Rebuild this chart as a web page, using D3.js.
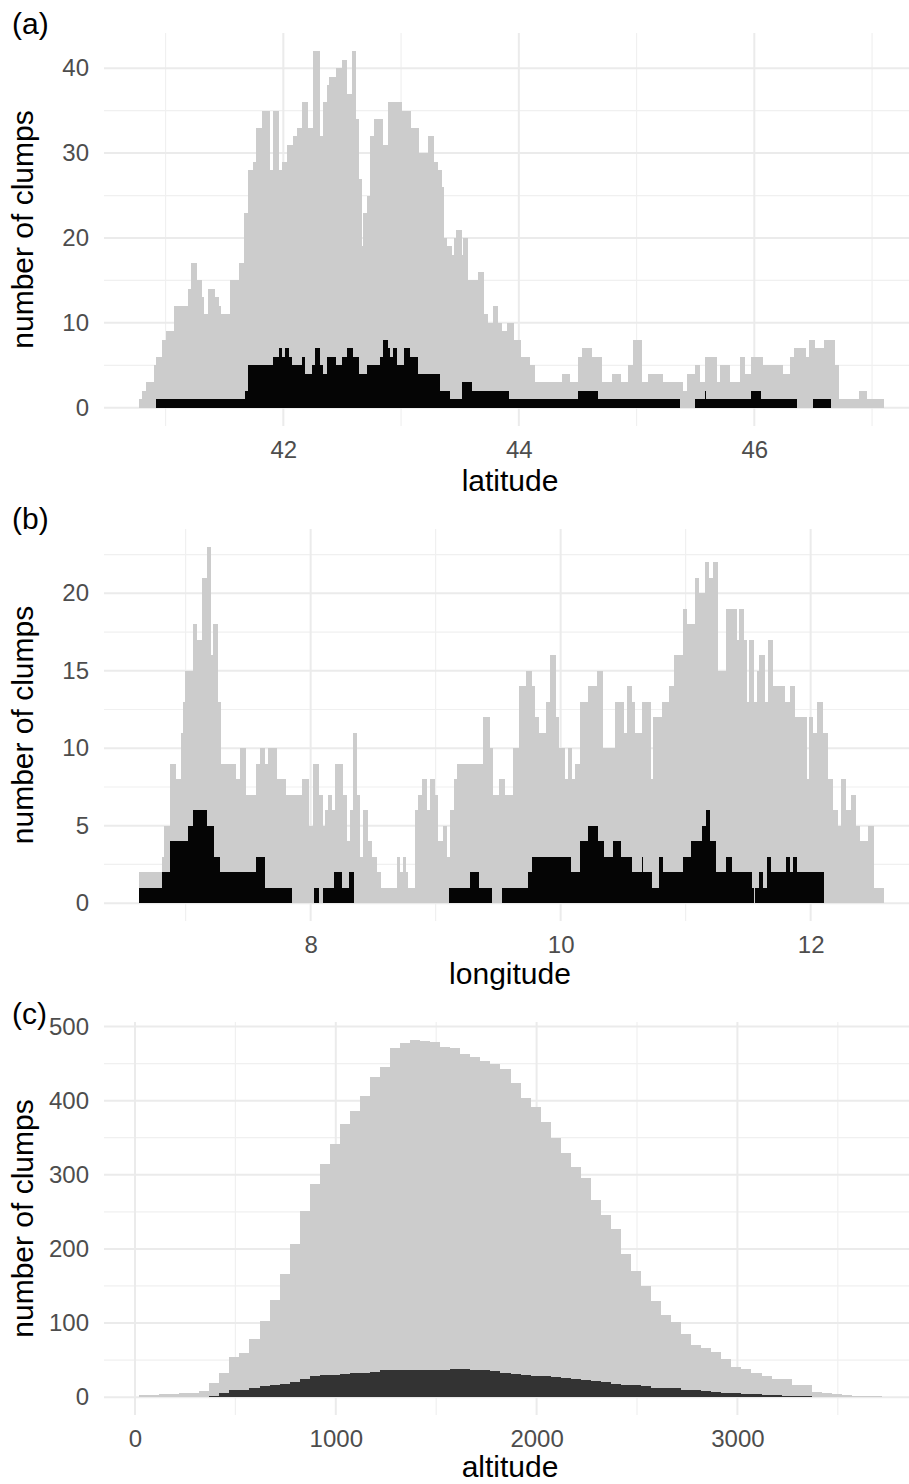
<!DOCTYPE html>
<html>
<head>
<meta charset="utf-8">
<script src="https://cdn.jsdelivr.net/npm/d3@7"></script>
<style>
  body { margin: 0; background: #fff; }
  svg { display: block; font-family: "Liberation Sans", Arial, Helvetica, sans-serif; }
</style>
</head>
<body>
<svg width="909" height="1484"></svg>
<script>
// ---- (a) latitude: step edges and counts (all clumps / subset) ----
var latAllX = [40.77, 40.80, 40.83, 40.90, 40.92, 40.97, 41.00, 41.07, 41.19, 41.22,
  41.27, 41.31, 41.33, 41.36, 41.42, 41.45, 41.47, 41.55, 41.62, 41.67,
  41.70, 41.74, 41.77, 41.82, 41.89, 41.91, 41.96, 41.99, 42.03, 42.08,
  42.12, 42.16, 42.21, 42.25, 42.31, 42.34, 42.37, 42.39, 42.45, 42.50,
  42.54, 42.58, 42.62, 42.645, 42.665, 42.68, 42.71, 42.74, 42.77, 42.845,
  42.89, 43.005, 43.08, 43.15, 43.23, 43.28, 43.315, 43.345, 43.365, 43.39,
  43.43, 43.45, 43.47, 43.515, 43.53, 43.57, 43.655, 43.70, 43.735, 43.78,
  43.825, 43.855, 43.90, 43.955, 44.015, 44.095, 44.135, 44.365, 44.435, 44.505,
  44.535, 44.62, 44.705, 44.79, 44.87, 44.93, 44.97, 45.045, 45.10, 45.225,
  45.395, 45.43, 45.495, 45.54, 45.58, 45.68, 45.71, 45.795, 45.875, 45.92,
  45.975, 46.07, 46.24, 46.30, 46.335, 46.44, 46.465, 46.515, 46.59, 46.685,
  46.72, 46.885, 46.955, 47.10];
var latAllN = [1, 2, 3, 5, 6, 8, 9, 12, 14, 17,
  15, 13, 11, 14, 13, 12, 11, 15, 17, 23,
  28, 29, 33, 35, 28, 35, 28, 29, 31, 32,
  33, 36, 33, 42, 32, 36, 38, 39, 40, 41,
  37, 42, 34, 27, 19, 23, 25, 32, 34, 31,
  36, 35, 33, 30, 32, 29, 28, 26, 20, 19,
  18, 20, 21, 18, 20, 15, 16, 11, 10, 12,
  10, 9, 10, 8, 6, 5, 3, 4, 3, 6,
  7, 6, 3, 4, 3, 5, 8, 3, 4, 3,
  2, 4, 5, 3, 6, 3, 5, 3, 6, 4,
  6, 5, 4, 6, 7, 6, 8, 7, 8, 5,
  1, 2, 1];
var latSubX = [40.92, 41.675, 41.70, 41.915, 41.96, 41.99, 42.015, 42.05, 42.075, 42.155,
  42.18, 42.24, 42.27, 42.31, 42.34, 42.37, 42.45, 42.495, 42.54, 42.595,
  42.645, 42.71, 42.82, 42.85, 42.885, 42.905, 42.935, 42.965, 43.025, 43.075,
  43.145, 43.33, 43.415, 43.52, 43.60, 43.92, 44.505, 44.675, 45.37, 45.495,
  45.58, 45.59, 45.975, 46.06, 46.36, 46.50, 46.65];
var latSubN = [1, 2, 5, 6, 7, 6, 7, 6, 5, 6,
  4, 5, 7, 5, 4, 6, 5, 6, 7, 6,
  4, 5, 6, 8, 7, 6, 7, 5, 7, 6,
  4, 2, 1, 3, 2, 1, 2, 1, 0, 1,
  2, 1, 2, 1, 0, 1];

// ---- (b) longitude ----
var lonAllX = [6.627, 6.813, 6.830, 6.875, 6.920, 6.963, 6.976, 6.997, 7.056, 7.093,
  7.128, 7.168, 7.200, 7.221, 7.261, 7.280, 7.400, 7.435, 7.480, 7.560,
  7.595, 7.635, 7.661, 7.733, 7.803, 7.928, 7.987, 8.016, 8.069, 8.096,
  8.115, 8.141, 8.168, 8.195, 8.256, 8.288, 8.315, 8.336, 8.373, 8.395,
  8.421, 8.461, 8.488, 8.528, 8.563, 8.688, 8.715, 8.741, 8.763, 8.781,
  8.835, 8.861, 8.888, 8.928, 8.955, 8.995, 9.021, 9.061, 9.088, 9.115,
  9.147, 9.168, 9.381, 9.435, 9.456, 9.509, 9.555, 9.621, 9.669, 9.723,
  9.768, 9.795, 9.829, 9.883, 9.915, 9.963, 9.989, 10.035, 10.061, 10.088,
  10.115, 10.155, 10.221, 10.288, 10.341, 10.435, 10.507, 10.528, 10.568, 10.595,
  10.648, 10.723, 10.741, 10.808, 10.869, 10.907, 10.976, 11.013, 11.075, 11.109,
  11.155, 11.189, 11.221, 11.261, 11.323, 11.408, 11.429, 11.467, 11.488, 11.509,
  11.547, 11.568, 11.589, 11.635, 11.661, 11.696, 11.795, 11.835, 11.875, 11.968,
  11.989, 12.021, 12.053, 12.096, 12.141, 12.176, 12.221, 12.240, 12.283, 12.320,
  12.363, 12.395, 12.456, 12.507, 12.587];
var lonAllN = [2, 3, 5, 9, 8, 11, 13, 15, 18, 17,
  21, 23, 16, 18, 13, 9, 8, 10, 7, 9,
  10, 9, 10, 8, 7, 8, 5, 9, 7, 5,
  6, 7, 6, 9, 7, 4, 6, 11, 7, 3,
  6, 4, 3, 2, 1, 3, 2, 3, 2, 1,
  6, 7, 8, 6, 8, 7, 4, 5, 3, 6,
  8, 9, 12, 10, 7, 8, 7, 10, 14, 15,
  14, 12, 11, 13, 16, 12, 10, 8, 10, 8,
  9, 13, 14, 15, 10, 13, 11, 14, 13, 11,
  13, 8, 12, 13, 14, 16, 19, 18, 21, 20,
  22, 21, 22, 15, 19, 17, 19, 17, 13, 17,
  13, 15, 16, 13, 17, 14, 13, 14, 12, 8,
  12, 11, 13, 11, 8, 6, 5, 8, 6, 7,
  5, 4, 5, 1];
var lonSubX = [6.627, 6.813, 6.875, 7.021, 7.061, 7.168, 7.227, 7.275, 7.563, 7.635,
  7.848, 8.027, 8.067, 8.101, 8.187, 8.248, 8.309, 8.347, 9.109, 9.275,
  9.349, 9.453, 9.528, 9.741, 9.768, 10.080, 10.155, 10.221, 10.296, 10.347,
  10.421, 10.480, 10.568, 10.648, 10.661, 10.728, 10.789, 10.816, 10.976, 11.040,
  11.128, 11.163, 11.195, 11.243, 11.323, 11.368, 11.528, 11.544, 11.555, 11.589,
  11.621, 11.648, 11.680, 11.803, 11.835, 11.856, 11.893, 12.107];
var lonSubN = [1, 2, 4, 5, 6, 5, 3, 2, 3, 1,
  0, 1, 0, 1, 2, 1, 2, 0, 1, 2,
  1, 0, 1, 2, 3, 2, 4, 5, 4, 3,
  4, 3, 2, 3, 2, 1, 3, 2, 3, 4,
  5, 6, 4, 2, 3, 2, 1, 0, 1, 2,
  1, 3, 2, 3, 2, 3, 2];

// ---- (c) altitude, 50 m bins starting at 20 m ----
var altBins = d3.range(20, 3720, 50);
var altAllN = [3, 3, 4, 4, 5, 6, 8, 19, 32, 54,
  60, 78, 103, 131, 166, 207, 251, 287, 315, 342,
  368, 386, 406, 432, 446, 471, 478, 482, 480, 479,
  472, 471, 463, 459, 454, 449, 443, 424, 404, 391,
  371, 349, 330, 311, 295, 266, 246, 227, 193, 170,
  150, 130, 111, 101, 85, 70, 66, 61, 52, 40,
  38, 33, 29, 24, 24, 17, 16, 7, 5, 4,
  3, 2, 2, 2];
var altSubN = [0, 0, 0, 0, 0, 0, 0, 1, 5, 10,
  9, 13, 15, 16, 18, 21, 24, 28, 30, 30,
  31, 32, 33, 34, 36, 36, 36, 36, 36, 37,
  37, 38, 38, 37, 36, 35, 33, 31, 30, 29,
  28, 27, 26, 25, 23, 22, 20, 18, 17, 16,
  15, 13, 13, 12, 10, 9, 8, 7, 6, 5,
  4, 4, 3, 3, 2, 2, 1, 0, 0, 0,
  0, 0, 0, 0];
var altX = altBins.concat([3720]);

// tick values
var latTicks = [42, 44, 46], latMinor = [41, 43, 45, 47];
var lonTicks = [8, 10, 12], lonMinor = [7, 9, 11];
var altTicks = [0, 1000, 2000, 3000], altMinor = [500, 1500, 2500, 3500];
var yTicksA = [0, 10, 20, 30, 40], yMinorA = [5, 15, 25, 35];
var yTicksB = [0, 5, 10, 15, 20], yMinorB = [2.5, 7.5, 12.5, 17.5, 22.5];
var yTicksC = [0, 100, 200, 300, 400, 500], yMinorC = [50, 150, 250, 350, 450];

var svg = d3.select("svg");
var left = 104, right = 916, titleX = 510;

var panels = [
  { tag: "(a)", tagY: 34, top: 33, bottom: 426, titleY: 491,
    xDomain: [40.477, 47.373], yDomain: [-2.15, 44.15],
    xTicks: latTicks, xMinor: latMinor, yTicks: yTicksA, yMinor: yMinorA,
    title: "latitude", allX: latAllX, allN: latAllN, subX: latSubX, subN: latSubN, subFill: "#050505" },
  { tag: "(b)", tagY: 529, top: 529, bottom: 921, titleY: 984,
    xDomain: [6.347, 12.843], yDomain: [-1.15, 24.15],
    xTicks: lonTicks, xMinor: lonMinor, yTicks: yTicksB, yMinor: yMinorB,
    title: "longitude", allX: lonAllX, allN: lonAllN, subX: lonSubX, subN: lonSubN, subFill: "#050505" },
  { tag: "(c)", tagY: 1024, top: 1022, bottom: 1415, titleY: 1477,
    xDomain: [-154.4, 3889.4], yDomain: [-24.1, 506.1],
    xTicks: altTicks, xMinor: altMinor, yTicks: yTicksC, yMinor: yMinorC,
    title: "altitude", allX: altX, allN: altAllN, subX: altX, subN: altSubN, subFill: "#333333" }
];

function steps(X, N) {
  if (X.length !== N.length + 1) console.error("edge/count mismatch", X.length, N.length);
  return N.map(function(n, i) { return { x0: X[i], x1: X[i + 1], n: n }; })
    .filter(function(d) { return d.n > 0; });
}

function drawPanel(p) {
  var x = d3.scaleLinear().domain(p.xDomain).range([left, right]);
  var y = d3.scaleLinear().domain(p.yDomain).range([p.bottom, p.top]);
  var g = svg.append("g");

  // grid (minor first, then major)
  g.selectAll(".hmin").data(p.yMinor).enter().append("line")
    .attr("x1", left).attr("x2", right)
    .attr("y1", function(d) { return y(d); }).attr("y2", function(d) { return y(d); })
    .attr("stroke", "#f0f0f0").attr("stroke-width", 1.2);
  g.selectAll(".vmin").data(p.xMinor).enter().append("line")
    .attr("y1", p.top).attr("y2", p.bottom)
    .attr("x1", function(d) { return x(d); }).attr("x2", function(d) { return x(d); })
    .attr("stroke", "#f0f0f0").attr("stroke-width", 1.2);
  g.selectAll(".hmaj").data(p.yTicks).enter().append("line")
    .attr("x1", left).attr("x2", right)
    .attr("y1", function(d) { return y(d); }).attr("y2", function(d) { return y(d); })
    .attr("stroke", "#ebebeb").attr("stroke-width", 2);
  g.selectAll(".vmaj").data(p.xTicks).enter().append("line")
    .attr("y1", p.top).attr("y2", p.bottom)
    .attr("x1", function(d) { return x(d); }).attr("x2", function(d) { return x(d); })
    .attr("stroke", "#ebebeb").attr("stroke-width", 2);

  // bars: all clumps in grey, subset on top
  [[steps(p.allX, p.allN), "#cccccc"], [steps(p.subX, p.subN), p.subFill]].forEach(function(s) {
    g.append("g").attr("shape-rendering", "crispEdges")
      .selectAll("rect").data(s[0]).enter().append("rect")
      .attr("x", function(d) { return x(d.x0); })
      .attr("width", function(d) { return x(d.x1) - x(d.x0); })
      .attr("y", function(d) { return y(d.n); })
      .attr("height", function(d) { return y(0) - y(d.n); })
      .attr("fill", s[1]);
  });

  // axes, ggplot minimal style: labels only
  var fmt = d3.format("d");
  var ax = g.append("g").attr("transform", "translate(0," + p.bottom + ")")
    .call(d3.axisBottom(x).tickValues(p.xTicks).tickFormat(fmt).tickSize(0).tickPadding(15));
  var ay = g.append("g").attr("transform", "translate(" + left + ",0)")
    .call(d3.axisLeft(y).tickValues(p.yTicks).tickFormat(fmt).tickSize(0).tickPadding(15));
  [ax, ay].forEach(function(a) {
    a.select(".domain").remove();
    a.attr("font-size", 24).attr("font-family", null).style("color", "#4d4d4d");
  });

  g.append("text")
    .attr("x", titleX).attr("y", p.titleY)
    .attr("text-anchor", "middle").attr("font-size", 30).attr("fill", "#000")
    .text(p.title);

  g.append("text")
    .attr("transform", "translate(33," + ((p.top + p.bottom) / 2) + ") rotate(-90)")
    .attr("text-anchor", "middle").attr("font-size", 30).attr("fill", "#000")
    .text("number of clumps");

  g.append("text")
    .attr("x", 12).attr("y", p.tagY)
    .attr("font-size", 30).attr("fill", "#000")
    .text(p.tag);
}

panels.forEach(drawPanel);
</script>
</body>
</html>
